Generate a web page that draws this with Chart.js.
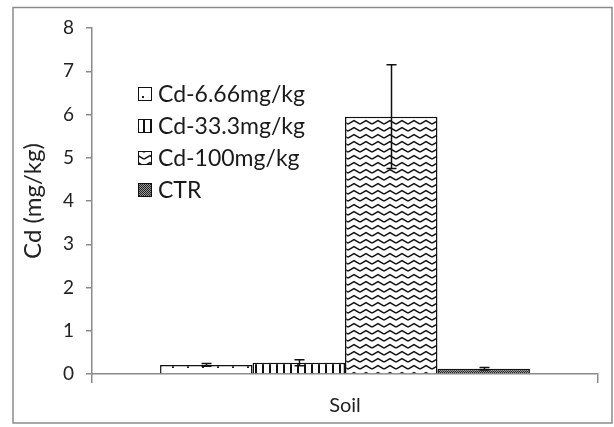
<!DOCTYPE html>
<html>
<head>
<meta charset="utf-8">
<script src="https://cdn.jsdelivr.net/npm/chart.js@4/dist/chart.umd.min.js"></script>
<style>
html,body{margin:0;padding:0;background:#fff;}
#wrap{width:614px;height:427px;position:relative;}
</style>
</head>
<body>
<div id="wrap"><canvas id="c" width="614" height="427"></canvas></div>
<script>
const categories = ['Soil'];
const seriesNames = ['Cd-6.66mg/kg', 'Cd-33.3mg/kg', 'Cd-100mg/kg', 'CTR'];
const seriesValues = [0.21, 0.26, 5.95, 0.12];
const seriesErrors = [0.03, 0.07, 1.2, 0.03];
const yTicks = [0, 1, 2, 3, 4, 5, 6, 7, 8];
const yTitle = 'Cd (mg/kg)';

function makePattern(w, h, draw) {
  const c = document.createElement('canvas');
  c.width = w; c.height = h;
  const g = c.getContext('2d');
  g.fillStyle = '#fff'; g.fillRect(0, 0, w, h);
  draw(g);
  return c.getContext('2d').createPattern(c, 'repeat');
}
const patDots = makePattern(15, 10, g => { g.fillStyle = '#222'; g.fillRect(7, 6, 2, 2); });
const patVert = makePattern(7, 7, g => { g.fillStyle = '#111'; g.fillRect(3, 0, 2, 7); });
const patZig = makePattern(12, 7, g => {
  g.strokeStyle = '#111'; g.lineWidth = 1.5;
  g.beginPath(); g.moveTo(0, 5); g.lineTo(6, 1.5); g.lineTo(12, 5); g.stroke();
});
const patChk = makePattern(2, 2, g => {
  g.fillStyle = '#999'; g.fillRect(0, 0, 2, 2);
  g.fillStyle = '#222'; g.fillRect(0, 0, 1, 1); g.fillRect(1, 1, 1, 1);
});
const patterns = [patDots, patVert, patZig, patChk];

const FONT = 'Lato, "Open Sans", sans-serif';

const datasets = seriesNames.map((name, i) => ({
  label: name,
  data: [seriesValues[i]],
  errors: [seriesErrors[i]],
  backgroundColor: patterns[i],
  borderColor: '#111',
  borderWidth: 1.5,
  categoryPercentage: 0.731,
  barPercentage: 1.0
}));

const framePlugin = {
  id: 'frame',
  beforeDraw(chart) {
    const ctx = chart.ctx;
    ctx.save();
    ctx.fillStyle = '#fff';
    ctx.fillRect(0, 0, chart.width, chart.height);
    ctx.strokeStyle = '#8a8a8a';
    ctx.lineWidth = 1.5;
    ctx.strokeRect(13, 7.5, 599, 415.5);
    ctx.restore();
  }
};

const errorPlugin = {
  id: 'errbars',
  afterDatasetsDraw(chart) {
    const ctx = chart.ctx;
    const ys = chart.scales.y;
    ctx.save();
    ctx.strokeStyle = '#111';
    ctx.lineWidth = 1.5;
    chart.data.datasets.forEach((ds, di) => {
      const meta = chart.getDatasetMeta(di);
      meta.data.forEach((bar, j) => {
        const v = ds.data[j], e = ds.errors[j];
        const x = Math.round(bar.x) + 0.5;
        const yT = ys.getPixelForValue(v + e);
        const yB = ys.getPixelForValue(v - e);
        ctx.beginPath();
        ctx.moveTo(x, yT); ctx.lineTo(x, yB);
        ctx.moveTo(x - 5, yT); ctx.lineTo(x + 5, yT);
        ctx.moveTo(x - 5, yB); ctx.lineTo(x + 5, yB);
        ctx.stroke();
      });
    });
    ctx.restore();
  }
};

const legendPlugin = {
  id: 'innerLegend',
  afterDraw(chart) {
    const ctx = chart.ctx;
    ctx.save();
    ctx.font = '23px ' + FONT;
    ctx.textBaseline = 'middle';
    ctx.textAlign = 'left';
    chart.data.datasets.forEach((ds, i) => {
      const cy = 94 + i * 32;
      ctx.fillStyle = ds.backgroundColor;
      ctx.fillRect(138, cy - 7, 14, 14);
      ctx.strokeStyle = '#111';
      ctx.lineWidth = 1;
      ctx.strokeRect(138.5, cy - 6.5, 13, 13);
      ctx.fillStyle = '#1a1a1a';
      ctx.fillText(ds.label, 158, cy + 1);
    });
    ctx.restore();
  }
};

new Chart(document.getElementById('c'), {
  type: 'bar',
  data: { labels: categories, datasets: datasets },
  options: {
    responsive: false,
    animation: false,
    devicePixelRatio: 1,
    layout: { padding: { left: 13, right: 16, top: 28, bottom: 0 } },
    plugins: { legend: { display: false }, tooltip: { enabled: false } },
    scales: {
      x: {
        offset: true,
        afterFit(s) { s.height = 53; },
        grid: { drawOnChartArea: false, drawTicks: true, tickLength: 9, color: '#8a8a8a', offset: true, lineWidth: 1.5 },
        border: { color: '#8a8a8a', width: 1.5 },
        ticks: { color: '#222', font: { family: FONT, size: 20 }, padding: 11 }
      },
      y: {
        min: 0, max: 8,
        afterBuildTicks(s) { s.ticks = yTicks.map(v => ({ value: v })); },
        afterFit(s) { s.width = 79; },
        grid: { drawOnChartArea: false, drawTicks: true, tickLength: 6, color: '#8a8a8a', lineWidth: 1.5 },
        border: { color: '#8a8a8a', width: 1.5 },
        ticks: { color: '#222', font: { family: FONT, size: 19 }, padding: 12 },
        title: { display: true, text: yTitle, color: '#222', font: { family: FONT, size: 24 }, padding: { top: 6, bottom: 0 } }
      }
    }
  },
  plugins: [framePlugin, errorPlugin, legendPlugin]
});
</script>
</body>
</html>
